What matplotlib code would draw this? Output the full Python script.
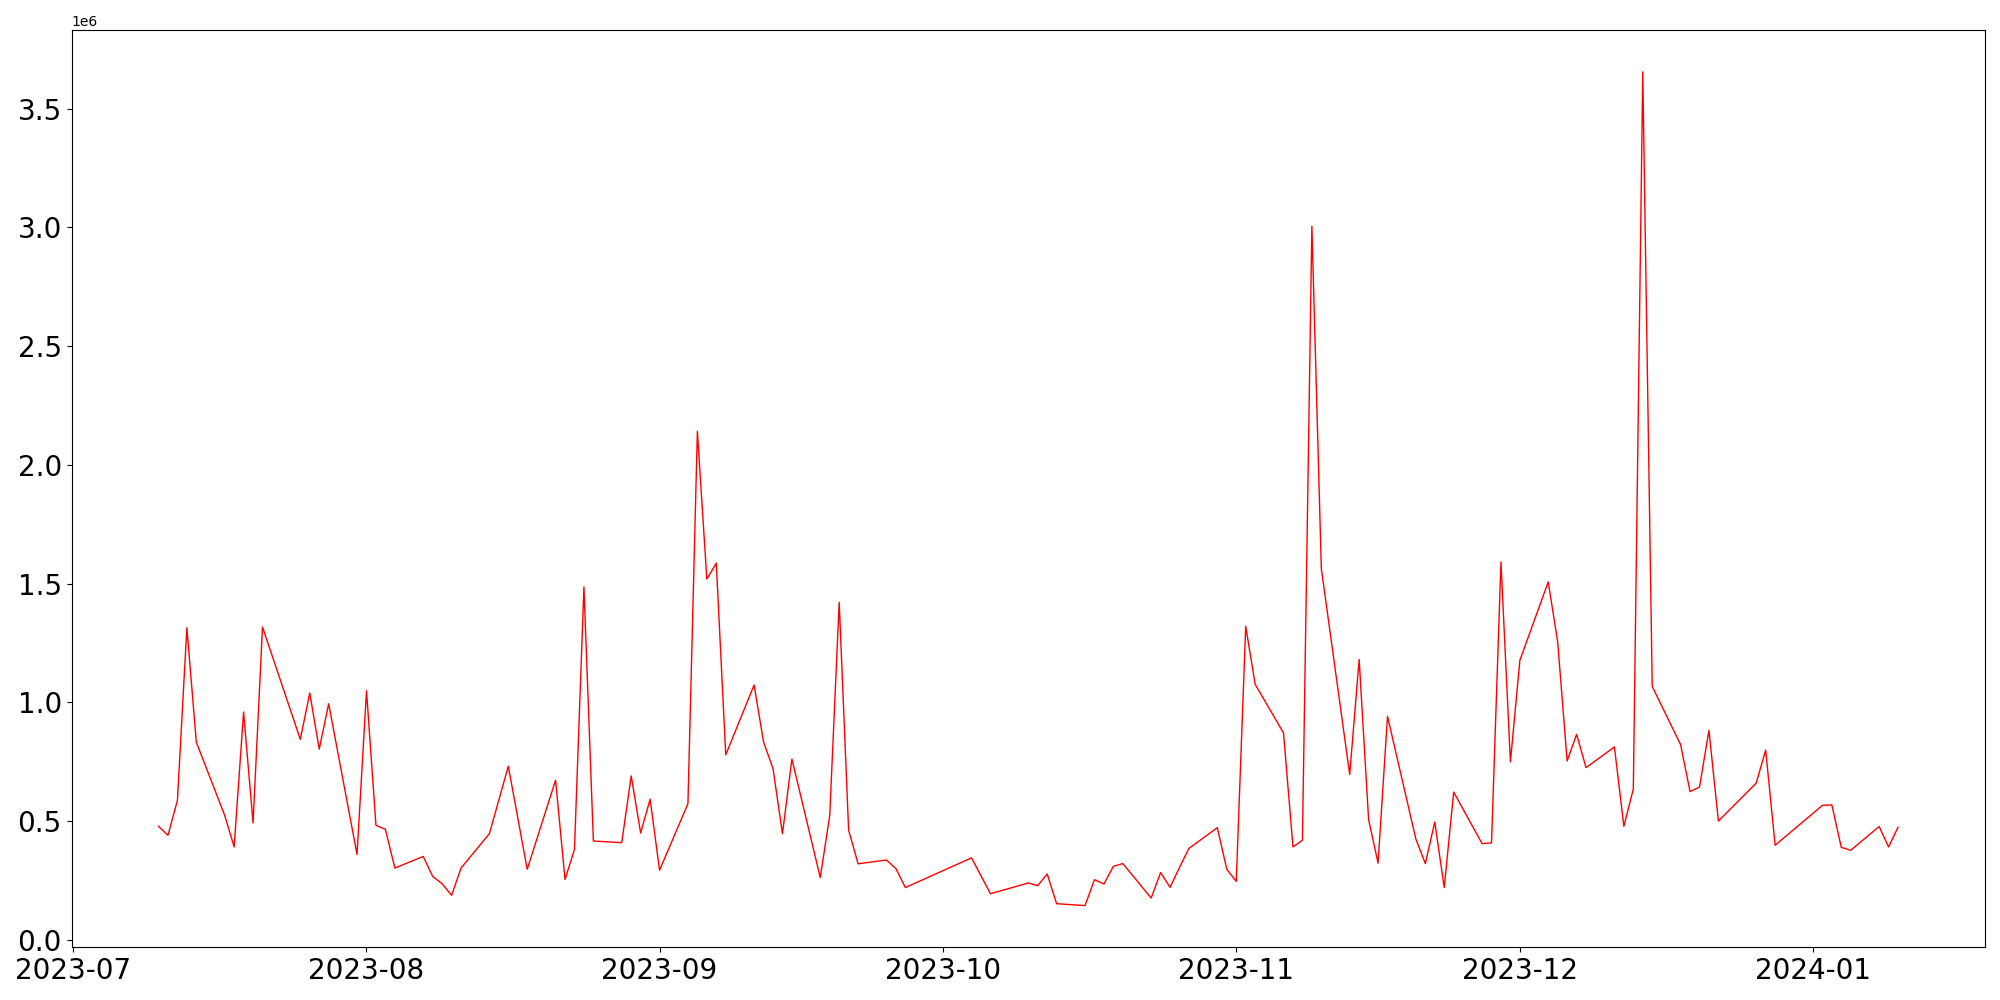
import matplotlib
matplotlib.use("Agg")
import matplotlib.pyplot as plt
import pandas as pd

# ===== data =====
dates = [
    "2023-07-10", "2023-07-11", "2023-07-12", "2023-07-13", "2023-07-14",
    "2023-07-17", "2023-07-18", "2023-07-19", "2023-07-20", "2023-07-21",
    "2023-07-25", "2023-07-26", "2023-07-27", "2023-07-28",
    "2023-07-31", "2023-08-01", "2023-08-02", "2023-08-03", "2023-08-04",
    "2023-08-07", "2023-08-08", "2023-08-09", "2023-08-10", "2023-08-11",
    "2023-08-14", "2023-08-16", "2023-08-18",
    "2023-08-21", "2023-08-22", "2023-08-23", "2023-08-24", "2023-08-25",
    "2023-08-28", "2023-08-29", "2023-08-30", "2023-08-31", "2023-09-01",
    "2023-09-04", "2023-09-05", "2023-09-06", "2023-09-07", "2023-09-08",
    "2023-09-11", "2023-09-12", "2023-09-13", "2023-09-14", "2023-09-15",
    "2023-09-18", "2023-09-19", "2023-09-20", "2023-09-21", "2023-09-22",
    "2023-09-25", "2023-09-26", "2023-09-27",
    "2023-10-04", "2023-10-06",
    "2023-10-10", "2023-10-11", "2023-10-12", "2023-10-13",
    "2023-10-16", "2023-10-17", "2023-10-18", "2023-10-19", "2023-10-20",
    "2023-10-23", "2023-10-24", "2023-10-25", "2023-10-26", "2023-10-27",
    "2023-10-30", "2023-10-31", "2023-11-01", "2023-11-02", "2023-11-03",
    "2023-11-06", "2023-11-07", "2023-11-08", "2023-11-09", "2023-11-10",
    "2023-11-13", "2023-11-14", "2023-11-15", "2023-11-16", "2023-11-17",
    "2023-11-20", "2023-11-21", "2023-11-22", "2023-11-23", "2023-11-24",
    "2023-11-27", "2023-11-28", "2023-11-29", "2023-11-30", "2023-12-01",
    "2023-12-04", "2023-12-05", "2023-12-06", "2023-12-07", "2023-12-08",
    "2023-12-11", "2023-12-12", "2023-12-13", "2023-12-14", "2023-12-15",
    "2023-12-18", "2023-12-19", "2023-12-20", "2023-12-21", "2023-12-22",
    "2023-12-26", "2023-12-27", "2023-12-28",
    "2024-01-02", "2024-01-03", "2024-01-04", "2024-01-05",
    "2024-01-08", "2024-01-09", "2024-01-10",
]

values = [
    478000, 440000, 587000, 1314000, 832000,
    524000, 391000, 959000, 492000, 1317000,
    844000, 1039000, 803000, 994000,
    359000, 1049000, 482000, 465000, 302000,
    351000, 267000, 236000, 187000, 302000,
    447000, 731000, 297000,
    672000, 254000, 381000, 1486000, 416000,
    409000, 690000, 450000, 592000, 293000,
    573000, 2141000, 1519000, 1586000, 779000,
    1073000, 833000, 721000, 447000, 761000,
    262000, 524000, 1421000, 461000, 320000,
    336000, 300000, 220000,
    345000, 194000,
    239000, 228000, 277000, 152000,
    144000, 253000, 235000, 309000, 321000,
    176000, 283000, 221000, 305000, 385000,
    472000, 297000, 246000, 1320000, 1076000,
    871000, 391000, 419000, 3005000, 1563000,
    696000, 1180000, 506000, 323000, 941000,
    424000, 321000, 496000, 220000, 622000,
    405000, 408000, 1591000, 749000, 1177000,
    1507000, 1254000, 753000, 865000, 725000,
    812000, 478000, 635000, 3655000, 1067000,
    822000, 624000, 643000, 882000, 500000,
    660000, 799000, 398000,
    566000, 568000, 389000, 377000,
    477000, 391000, 474000,
]

x = pd.to_datetime(dates)

# ===== plot =====
fig, ax = plt.subplots(figsize=(20, 10), dpi=100)
ax.plot(x, values, color="red", linewidth=1)

plt.xticks(fontsize=20)
plt.yticks(fontsize=20)

plt.tight_layout()
plt.savefig("out.png", dpi=100)
